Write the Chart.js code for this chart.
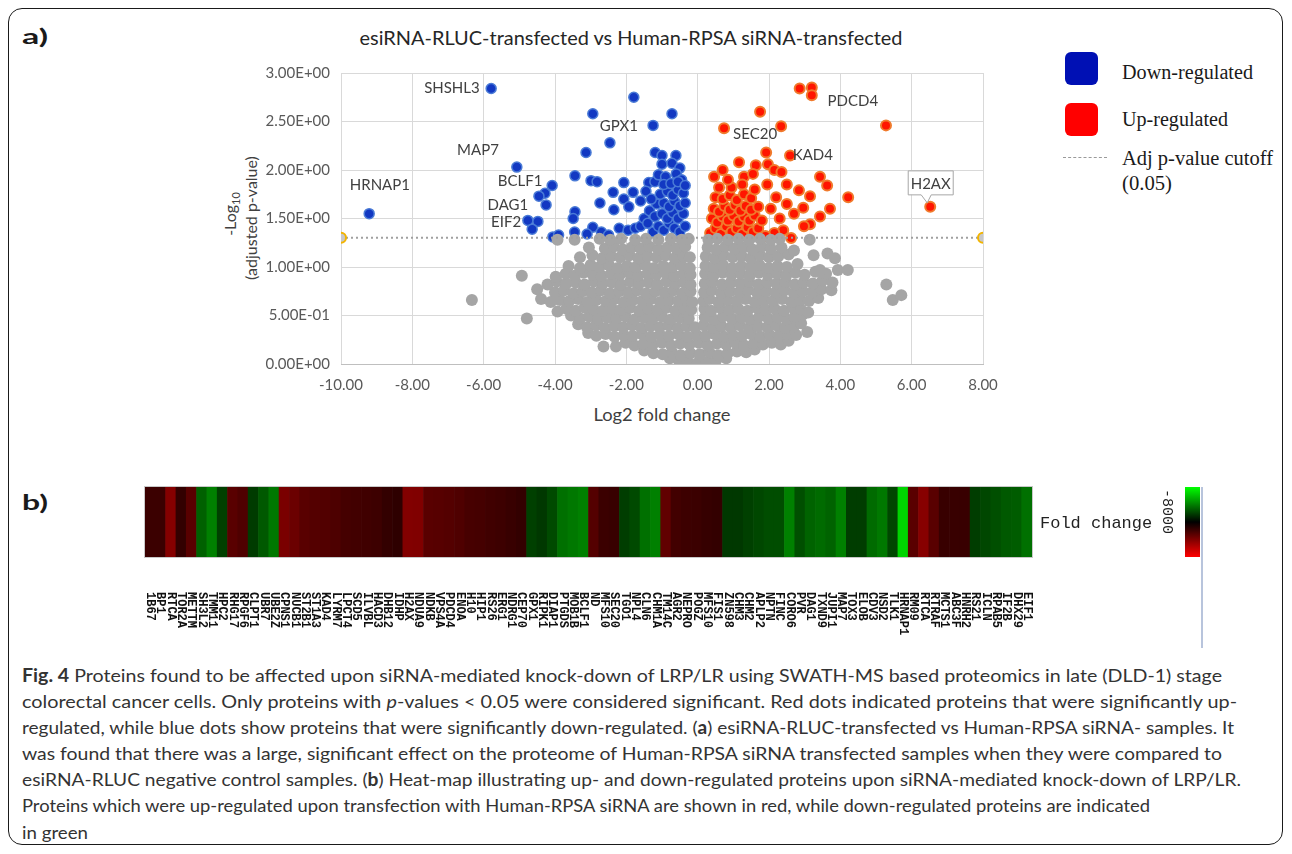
<!DOCTYPE html>
<html><head><meta charset="utf-8">
<script src="https://cdn.jsdelivr.net/npm/chart.js@4.4.1/dist/chart.umd.min.js"></script>
<style>
html,body{margin:0;padding:0;background:#fff;}
#page{position:relative;width:1292px;height:854px;overflow:hidden;background:#fff;font-family:Lato,sans-serif;color:#262626;}
.t{position:absolute;white-space:nowrap;display:inline-block;}
.lc{transform-origin:left center;}
.cc{transform-origin:center center;}
#frame{position:absolute;left:8px;top:8px;width:1273px;height:835px;border:1.5px solid #1a1a1a;border-radius:14px;}
.leg{font-family:"Liberation Serif",serif;font-size:20px;color:#1a1a1a;}
.cap{font-family:Lato,sans-serif;font-size:18px;color:#333;left:22px;}
canvas{position:absolute;}
</style></head>
<body><div id="page">
<div id="frame"></div>
<div class="t lc" data-w="26" data-y="35" style="left:22px;font-weight:bold;font-size:21px;color:#1a1a1a;">a)</div>
<div class="t cc" data-w="543" data-cx="631" data-y="37" style="font-size:19px;color:#262626;">esiRNA-RLUC-transfected vs Human-RPSA siRNA-transfected</div>

<div style="position:absolute;left:1065px;top:52px;width:33px;height:33px;border-radius:6px;background:#0010b4;"></div>
<div class="t lc leg" data-w="131" data-y="72" style="left:1122px;">Down-regulated</div>
<div style="position:absolute;left:1065px;top:103px;width:33px;height:33px;border-radius:6px;background:#ff0000;"></div>
<div class="t lc leg" data-w="106" data-y="119" style="left:1122px;">Up-regulated</div>
<div style="position:absolute;left:1063px;top:157px;width:44px;height:0;border-top:1.5px dashed #9a9a9a;"></div>
<div class="t lc leg" data-w="151" data-y="158" style="left:1122px;">Adj p-value cutoff</div>
<div class="t lc leg" data-w="50" data-y="183" style="left:1122px;">(0.05)</div>

<div class="t" style="left:231px;top:214px;transform:translate(-50%,-50%) rotate(-90deg);font-size:16px;color:#404040;">-Log<sub style="font-size:11px;">10</sub></div>
<div class="t" style="left:250px;top:218px;transform:translate(-50%,-50%) rotate(-90deg);font-size:16px;color:#404040;">(adjusted p-value)</div>
<div class="t cc" data-w="137" data-cx="662" data-y="414" style="font-size:17px;color:#404040;">Log2 fold change</div>

<div class="t lc" data-w="26" data-y="501" style="left:22px;font-weight:bold;font-size:21px;color:#1a1a1a;">b)</div>

<canvas id="volcano" width="820" height="420" style="left:200px;top:40px;"></canvas>
<canvas id="heat" width="1292" height="190" style="left:0px;top:470px;"></canvas>

<div class="t lc cap" data-w="1200" data-y="675"><b>Fig. 4</b> Proteins found to be affected upon siRNA-mediated knock-down of LRP/LR using SWATH-MS based proteomics in late (DLD-1) stage</div>
<div class="t lc cap" data-w="1215" data-y="701">colorectal cancer cells. Only proteins with <i>p</i>-values &lt; 0.05 were considered significant. Red dots indicated proteins that were significantly up-</div>
<div class="t lc cap" data-w="1212" data-y="727">regulated, while blue dots show proteins that were significantly down-regulated. (<b>a</b>) esiRNA-RLUC-transfected vs Human-RPSA siRNA- samples. It</div>
<div class="t lc cap" data-w="1200" data-y="753">was found that there was a large, significant effect on the proteome of Human-RPSA siRNA transfected samples when they were compared to</div>
<div class="t lc cap" data-w="1219" data-y="779">esiRNA-RLUC negative control samples. (<b>b</b>) Heat-map illustrating up- and down-regulated proteins upon siRNA-mediated knock-down of LRP/LR.</div>
<div class="t lc cap" data-w="1128" data-y="805">Proteins which were up-regulated upon transfection with Human-RPSA siRNA are shown in red, while down-regulated proteins are indicated</div>
<div class="t lc cap" data-w="66" data-y="832">in green</div>
</div>
<script>
// ---------- Volcano plot data (log2 fold change, -log10 adjusted p) ----------
const cutoffP = 1.301;
const xTickMin = -10, xTickMax = 8, yTickMin = 0, yTickMax = 3;

const bluePts = [
 [-9.21,1.55],[-5.79,2.84],[-5.07,2.03],[-4.08,1.84],[-4.28,1.76],[-4.45,1.73],[-4.25,1.64],[-4.76,1.48],[-4.48,1.47],[-4.64,1.39],[-4.06,1.31],[-3.9,1.33],
 [-2.94,2.58],[-1.79,2.75],[-0.72,2.58],[-1.25,2.46],[-2.46,2.28],[-3.13,2.18],[-3.44,1.94],[-2.99,1.89],[-2.82,1.88],[-2.07,1.87],[-1.37,1.87],[-2.37,1.77],
 [-1.81,1.77],[-1.19,2.18],[-1.0,2.15],[-0.61,2.15],[-1.0,2.06],[-0.72,2.07],[-0.5,2.02],[-2.74,1.66],[-2.07,1.70],[-1.93,1.62],[-2.35,1.59],[-3.44,1.57],
 [-3.49,1.50],[-2.94,1.41],[-2.7,1.36],[-2.5,1.33],[-3.45,1.36],[-3.1,1.34],[-2.2,1.40],[-1.95,1.38],[-1.75,1.40],[-1.6,1.42],[-1.5,1.50],[-1.35,1.58],
 [-1.6,1.68],[-1.45,1.78],[-1.2,1.88],[-1.1,1.95],[-0.9,1.93],[-0.6,1.96],[-0.45,1.9],
 [-1.25,1.36],[-1.1,1.42],[-0.95,1.38],[-0.8,1.45],[-0.65,1.4],[-0.5,1.36],[-0.35,1.42],[-1.2,1.52],[-1.0,1.55],[-0.85,1.5],[-0.7,1.56],[-0.55,1.5],
 [-0.4,1.55],[-1.15,1.65],[-0.95,1.66],[-0.8,1.62],[-0.65,1.68],[-0.5,1.63],[-0.35,1.66],[-1.05,1.75],[-0.85,1.78],[-0.7,1.74],[-0.55,1.8],[-0.4,1.76],
 [-0.95,1.85],[-0.75,1.86],[-0.55,1.88],[-0.35,1.84],[-1.3,1.7],[-1.4,1.45]
];
const redPts = [
 [2.86,2.84],[3.2,2.85],[3.2,2.77],[5.28,2.46],[1.75,2.6],[0.74,2.43],[2.34,2.45],[1.92,2.18],[2.59,2.15],[1.16,2.08],[1.63,2.05],[1.97,2.06],
 [2.15,2.0],[2.35,1.98],[0.46,1.93],[0.7,2.0],[1.3,1.93],[1.55,1.96],[3.43,1.93],[3.63,1.84],[4.22,1.72],[2.84,1.79],[3.15,1.73],[2.96,1.61],
 [3.71,1.6],[3.43,1.52],[3.15,1.44],[2.98,1.42],[2.62,1.3],[2.4,1.38],[2.15,1.35],[1.9,1.32],[6.52,1.62],[2.7,1.55],[2.5,1.65],[2.2,1.72],
 [1.95,1.85],[2.5,1.85],[2.05,1.6],[2.3,1.5],
 [0.35,1.35],[0.5,1.4],[0.65,1.34],[0.8,1.42],[0.95,1.36],[1.1,1.4],[1.25,1.34],[1.4,1.41],[1.55,1.36],[1.7,1.4],
 [0.4,1.5],[0.55,1.46],[0.7,1.52],[0.85,1.48],[1.0,1.53],[1.15,1.47],[1.3,1.52],[1.45,1.48],[1.6,1.53],[1.8,1.48],
 [0.45,1.6],[0.6,1.57],[0.75,1.63],[0.9,1.59],[1.05,1.64],[1.2,1.58],[1.35,1.63],[1.5,1.59],[1.7,1.62],
 [0.5,1.72],[0.7,1.7],[0.9,1.74],[1.1,1.69],[1.3,1.75],[1.5,1.71],[0.6,1.82],[0.95,1.82],[1.25,1.85],[1.6,1.8],[0.85,1.9]
];
const greyPts = [
 [-0.78,0.06],[-0.52,0.03],[-0.27,0.02],[0.0,0.01],[0.26,0.02],[0.52,0.04],[0.8,0.06],
 [-1.5,0.14],[-1.24,0.11],[-0.98,0.1],[-0.72,0.12],[-0.47,0.09],[-0.2,0.11],[0.06,0.1],[0.33,0.12],[0.58,0.09],[0.84,0.11],[1.1,0.13],[1.36,0.12],[1.6,0.15],
 [-2.64,0.18],[-2.29,0.18],[-2.02,0.22],[-1.77,0.19],[-1.52,0.21],[-1.26,0.2],[-1.0,0.22],[-0.74,0.19],[-0.49,0.21],[-0.23,0.2],[0.03,0.22],[0.28,0.19],[0.54,0.21],[0.8,0.2],[1.06,0.22],[1.31,0.19],[1.57,0.21],[1.83,0.2],[2.08,0.22],[2.33,0.2],[2.55,0.24],
 [-3.07,0.32],[-2.84,0.29],[-2.58,0.31],[-2.33,0.28],[-2.07,0.3],[-1.82,0.29],[-1.56,0.31],[-1.3,0.28],[-1.05,0.3],[-0.8,0.29],[-0.54,0.31],[-0.28,0.28],[-0.03,0.3],[0.22,0.29],[0.48,0.31],[0.74,0.28],[0.99,0.3],[1.25,0.29],[1.5,0.31],[1.76,0.28],[2.02,0.3],[2.27,0.29],[2.52,0.31],[2.76,0.3],[3.07,0.33],
 [-3.35,0.41],[-3.1,0.38],[-2.85,0.4],[-2.6,0.37],[-2.34,0.39],[-2.09,0.38],[-1.84,0.4],[-1.58,0.37],[-1.33,0.39],[-1.07,0.38],[-0.82,0.4],[-0.56,0.37],[-0.31,0.39],[-0.08,0.38],[0.17,0.4],[0.42,0.37],[0.67,0.39],[0.93,0.38],[1.18,0.4],[1.44,0.37],[1.69,0.39],[1.95,0.38],[2.2,0.4],[2.45,0.37],[2.7,0.39],[2.9,0.42],
 [-4.79,0.47],[-3.55,0.5],[-3.3,0.47],[-3.04,0.49],[-2.79,0.46],[-2.53,0.48],[-2.28,0.47],[-2.02,0.49],[-1.77,0.46],[-1.51,0.48],[-1.26,0.47],[-1.0,0.49],[-0.75,0.46],[-0.5,0.48],[-0.25,0.47],[0.2,0.48],[0.45,0.46],[0.71,0.49],[0.96,0.47],[1.22,0.48],[1.47,0.46],[1.73,0.49],[1.98,0.47],[2.24,0.48],[2.49,0.46],[2.72,0.49],[2.95,0.51],
 [-3.93,0.54],[-3.68,0.57],[-3.42,0.55],[-3.17,0.58],[-2.91,0.56],[-2.66,0.55],[-2.4,0.57],[-2.15,0.56],[-1.89,0.58],[-1.64,0.55],[-1.38,0.57],[-1.13,0.56],[-0.87,0.58],[-0.62,0.55],[-0.37,0.57],[-0.18,0.56],[0.19,0.57],[0.38,0.55],[0.63,0.58],[0.89,0.56],[1.14,0.57],[1.4,0.55],[1.65,0.58],[1.91,0.56],[2.16,0.57],[2.42,0.55],[2.67,0.58],[2.9,0.56],[3.1,0.53],
 [-6.33,0.66],[-4.39,0.67],[-4.12,0.64],[-3.86,0.66],[-3.6,0.65],[-3.35,0.67],[-3.09,0.64],[-2.84,0.66],[-2.58,0.65],[-2.33,0.67],[-2.07,0.64],[-1.82,0.66],[-1.56,0.65],[-1.31,0.67],[-1.05,0.64],[-0.8,0.66],[-0.55,0.65],[-0.3,0.67],[-0.15,0.64],[0.16,0.65],[0.33,0.67],[0.58,0.64],[0.84,0.66],[1.09,0.65],[1.35,0.67],[1.6,0.64],[1.86,0.66],[2.11,0.65],[2.37,0.67],[2.62,0.64],[2.88,0.66],[3.12,0.65],[3.38,0.68],[5.47,0.66],[5.71,0.71],
 [-4.5,0.77],[-4.0,0.74],[-3.74,0.76],[-3.48,0.73],[-3.22,0.75],[-2.97,0.74],[-2.71,0.76],[-2.46,0.73],[-2.2,0.75],[-1.95,0.74],[-1.69,0.76],[-1.44,0.73],[-1.18,0.75],[-0.93,0.74],[-0.67,0.76],[-0.42,0.73],[-0.2,0.75],[0.18,0.74],[0.4,0.76],[0.66,0.73],[0.91,0.75],[1.17,0.74],[1.42,0.76],[1.68,0.73],[1.93,0.75],[2.19,0.74],[2.44,0.76],[2.7,0.73],[2.95,0.75],[3.21,0.74],[3.47,0.77],[3.75,0.76],
 [-4.21,0.82],[-3.95,0.85],[-3.68,0.83],[-3.42,0.84],[-3.17,0.82],[-2.91,0.85],[-2.66,0.83],[-2.4,0.84],[-2.15,0.82],[-1.89,0.85],[-1.64,0.83],[-1.38,0.84],[-1.13,0.82],[-0.87,0.85],[-0.62,0.83],[-0.38,0.84],[-0.2,0.82],[0.2,0.83],[0.42,0.85],[0.68,0.82],[0.93,0.84],[1.19,0.83],[1.44,0.85],[1.7,0.82],[1.95,0.84],[2.21,0.83],[2.46,0.85],[2.72,0.82],[2.97,0.84],[3.23,0.83],[3.5,0.86],[3.78,0.84],[5.29,0.82],
 [-4.93,0.91],[-3.98,0.9],[-3.7,0.93],[-3.45,0.91],[-3.2,0.94],[-2.94,0.92],[-2.69,0.91],[-2.43,0.93],[-2.18,0.92],[-1.92,0.94],[-1.67,0.91],[-1.41,0.93],[-1.16,0.92],[-0.9,0.94],[-0.65,0.91],[-0.4,0.93],[-0.2,0.92],[0.21,0.93],[0.44,0.91],[0.7,0.94],[0.95,0.92],[1.21,0.93],[1.46,0.91],[1.72,0.94],[1.97,0.92],[2.23,0.93],[2.48,0.91],[2.74,0.94],[3.0,0.92],[3.3,0.95],[3.6,0.93],
 [-3.62,1.01],[-3.3,0.99],[-3.0,1.02],[-2.75,1.0],[-2.49,1.02],[-2.24,0.99],[-1.98,1.01],[-1.73,1.0],[-1.47,1.02],[-1.22,0.99],[-0.96,1.01],[-0.71,1.0],[-0.46,1.02],[-0.22,0.99],[0.22,1.01],[0.46,1.0],[0.71,1.02],[0.97,0.99],[1.22,1.01],[1.48,1.0],[1.73,1.02],[1.99,0.99],[2.24,1.01],[2.5,1.0],[2.8,1.03],[3.43,0.97],[3.93,0.97],[4.21,0.97],
 [-3.3,1.1],[-2.95,1.12],[-2.68,1.09],[-2.42,1.11],[-2.17,1.1],[-1.91,1.12],[-1.66,1.09],[-1.4,1.11],[-1.15,1.1],[-0.89,1.12],[-0.64,1.09],[-0.4,1.11],[-0.22,1.1],[0.23,1.11],[0.47,1.09],[0.73,1.12],[0.98,1.1],[1.24,1.11],[1.49,1.09],[1.75,1.12],[2.0,1.1],[2.26,1.11],[2.55,1.13],[3.64,1.14],[3.85,1.09],[3.25,1.12],
 [-3.05,1.2],[-2.6,1.19],[-2.35,1.21],[-2.1,1.18],[-1.85,1.2],[-1.6,1.19],[-1.35,1.21],[-1.1,1.18],[-0.85,1.2],[-0.6,1.19],[-0.35,1.21],[0.28,1.2],[0.52,1.18],[0.78,1.21],[1.03,1.19],[1.28,1.2],[1.54,1.18],[1.8,1.21],[2.05,1.19],[2.35,1.2],[2.7,1.17],
 [-3.93,1.28],[-3.45,1.28],[-2.75,1.29],[-2.45,1.28],[-2.15,1.29],[-1.75,1.28],[-1.45,1.29],[-1.1,1.28],[-0.75,1.29],[-0.45,1.28],[-0.25,1.29],[0.3,1.28],[0.55,1.29],[0.85,1.28],[1.15,1.29],[1.45,1.28],[1.75,1.29],[2.05,1.28],[2.3,1.29],[3.14,1.28]
];
const annotLabels = ['SHSHL3','GPX1','MAP7','BCLF1','HRNAP1','DAG1','EIF2','SEC20','KAD4','PDCD4'];
const annotX = [-6.89,-2.21,-6.16,-4.98,-8.91,-5.32,-5.37,1.61,3.23,4.35];
const annotY = [2.84,2.45,2.20,1.89,1.84,1.64,1.46,2.37,2.15,2.71];
const calloutLabel = 'H2AX', calloutX = 6.52, calloutY = 1.62;

// ---------- Heat-map data ----------
const heatLabels = ['1B67','BP1','RTCA','TOR2A','METTM','SH3L2','TMM11','HPC2','RHG17','RPGF6','CLPT1','UBR7','UBE2Z','CPNS1','NUCB1','ST2B1','ST1A3','KAD4','LYRM7','LPCT4','SCD5','ILVBL','HACD3','DHB12','IDHP','H2AX','NDUA9','NDKB','VPS4A','PDCD4','ENOA','H10','HIP1','RS26','ERG1','NDRG1','CEP70','GPX1','RIPK1','DIAP1','PTGDS','MOB1B','BCLF1','ND','MFS10','SEC20','TGO1','NPL4','CLN6','CHM1A','TM14C','AGR2','NEPRO','POGZ','MFS10','FIS1','ZN598','CHM3','CHM2','APLP2','NPTN','FINC','CORO6','PVR','DAG1','TXND9','JUPI1','MAP7','TOX3','ELOB','CDV3','NSD2','TLK1','HRNAP1','RM09','RTCA','RTRAF','MCTS1','ABC3F','HNRH2','RS21','ICLN','RPAB5','IF2B','DHX29','EIF1'];
const heatValues = [0.23,0.23,0.52,0.20,0.35,-0.38,-0.50,-0.25,0.35,0.31,-0.23,-0.35,-0.47,0.48,0.42,0.35,0.33,0.32,0.30,0.27,0.26,0.25,0.24,0.20,0.18,0.51,0.50,0.35,0.34,0.33,0.31,0.28,0.27,0.25,0.24,0.22,0.20,-0.25,-0.22,-0.29,-0.44,-0.47,-0.50,0.33,0.23,0.22,-0.24,-0.29,-0.44,-0.50,0.38,0.26,0.24,0.23,0.21,0.20,-0.22,-0.22,-0.25,-0.28,-0.30,-0.30,-0.50,-0.31,-0.39,-0.42,-0.39,-0.50,-0.24,-0.24,-0.42,-0.47,-0.28,-0.83,0.35,0.53,0.35,0.22,0.22,0.22,-0.24,-0.28,-0.31,-0.35,-0.36,-0.44];
const colorbarLabel = '-8000';

function sci(v){
  if (Math.abs(v) < 1e-12) return '0.00E+00';
  const e = Math.floor(Math.log10(v) + 1e-9);
  const m = v / Math.pow(10, e);
  return m.toFixed(2) + 'E' + (e < 0 ? '-' : '+') + String(Math.abs(e)).padStart(2, '0');
}
function heatColor(v){
  return v > 0 ? `rgb(${Math.round(255*v)},0,0)` : `rgb(0,${Math.round(-255*v)},0)`;
}
const toXY = a => a.map(p => ({x:p[0], y:p[1]}));

const annotPlugin = {
  id:'annot',
  afterDatasetsDraw(chart){
    const {ctx, scales:{x, y}} = chart;
    ctx.save();
    ctx.font = '15px Lato';
    ctx.fillStyle = '#404040';
    ctx.textAlign = 'center';
    ctx.textBaseline = 'middle';
    annotLabels.forEach((t,i) => ctx.fillText(t, x.getPixelForValue(annotX[i]), y.getPixelForValue(annotY[i])));
    const px = x.getPixelForValue(calloutX), py = y.getPixelForValue(calloutY);
    const L = px-22, R = px+23, T = py-36, B = py-12;
    ctx.beginPath();
    ctx.moveTo(L,T); ctx.lineTo(R,T); ctx.lineTo(R,B); ctx.lineTo(px+1,B);
    ctx.lineTo(px-3,py-4); ctx.lineTo(px-9,B); ctx.lineTo(L,B); ctx.closePath();
    ctx.fillStyle = '#fff'; ctx.fill();
    ctx.strokeStyle = '#a6a6a6'; ctx.lineWidth = 1; ctx.stroke();
    ctx.fillStyle = '#404040';
    ctx.fillText(calloutLabel, (L+R)/2, (T+B)/2+1);
    ctx.restore();
  }
};

new Chart(document.getElementById('volcano'), {
  type:'scatter',
  data:{datasets:[
    {type:'line', data:[{x:xTickMin,y:cutoffP},{x:xTickMax,y:cutoffP}], borderColor:'#a0a0a0', borderWidth:2, borderDash:[2,3], fill:false,
     pointRadius:5, pointBackgroundColor:'#c8c8c8', pointBorderColor:'#f2b400', pointBorderWidth:2},
    {data:toXY(greyPts), backgroundColor:'#a5a5a5', borderWidth:0, pointRadius:6},
    {data:toXY(bluePts), backgroundColor:'#1238c2', borderColor:'#4a7bd6', borderWidth:1.5, pointRadius:5},
    {data:toXY(redPts), backgroundColor:'#ff1500', borderColor:'#f07a2c', borderWidth:2, pointRadius:5}
  ]},
  options:{
    responsive:false, animation:false, events:[],
    plugins:{legend:{display:false}, tooltip:{enabled:false}},
    layout:{padding:{left:0, top:33, right:37, bottom:0}},
    scales:{
      x:{type:'linear', min:xTickMin, max:xTickMax,
         ticks:{stepSize:2, callback:v => v.toFixed(2), font:{family:'Lato', size:15}, color:'#595959', padding:12},
         grid:{color:'#d9d9d9', drawTicks:false}, border:{display:true, color:'#bfbfbf'},
         afterFit:s => { s.height = 96; }},
      y:{min:yTickMin, max:yTickMax,
         ticks:{stepSize:0.5, callback:v => sci(v), font:{family:'Lato', size:15}, color:'#595959', padding:11},
         grid:{color:'#d9d9d9', drawTicks:false}, border:{display:false},
         afterFit:s => { s.width = 141; }}
    }
  },
  plugins:[annotPlugin]
});

const heatPlugin = {
  id:'heatExtras',
  afterDraw(chart){
    const {ctx, chartArea:a, scales:{x}} = chart;
    ctx.save();
    ctx.strokeStyle = '#c8c8c8'; ctx.lineWidth = 1;
    ctx.strokeRect(a.left-0.5, a.top-0.5, a.right-a.left+1, a.bottom-a.top+1);
    ctx.fillStyle = '#111'; ctx.font = 'bold 12px "Liberation Mono"';
    ctx.textAlign = 'left'; ctx.textBaseline = 'middle';
    heatLabels.forEach((lab,i) => {
      ctx.save(); ctx.translate(x.getPixelForValue(i), a.bottom+35); ctx.rotate(Math.PI/2);
      ctx.fillText(lab, 0, 0); ctx.restore();
    });
    ctx.font = '17px "Liberation Mono"'; ctx.fillStyle = '#222';
    ctx.fillText('Fold change', 1040, a.top+36);
    const g = ctx.createLinearGradient(0, a.top, 0, a.bottom);
    g.addColorStop(0, '#00ff00'); g.addColorStop(0.5, '#000000'); g.addColorStop(1, '#ff0000');
    ctx.fillStyle = g; ctx.fillRect(1185, a.top, 15, a.bottom-a.top);
    ctx.save(); ctx.translate(1167, a.top+2); ctx.rotate(Math.PI/2);
    ctx.font = '15px "Liberation Mono"'; ctx.fillStyle = '#222'; ctx.fillText(colorbarLabel, 0, 0); ctx.restore();
    ctx.strokeStyle = '#b8c4dc'; ctx.lineWidth = 2;
    ctx.beginPath(); ctx.moveTo(1202, a.top); ctx.lineTo(1202, a.top+161); ctx.stroke();
    ctx.restore();
  }
};

new Chart(document.getElementById('heat'), {
  type:'bar',
  data:{labels:heatLabels, datasets:[{data:heatLabels.map(() => 1), backgroundColor:heatValues.map(heatColor), borderWidth:0, categoryPercentage:1, barPercentage:1}]},
  options:{
    responsive:false, animation:false, events:[],
    plugins:{legend:{display:false}, tooltip:{enabled:false}},
    layout:{padding:{left:145, right:260, top:17, bottom:103}},
    scales:{x:{display:false}, y:{display:false, min:0, max:1}}
  },
  plugins:[heatPlugin]
});

// fit text widths to the reference
document.querySelectorAll('[data-w]').forEach(el => {
  const w = +el.dataset.w, nat = el.getBoundingClientRect().width;
  const s = nat > 0 ? w / nat : 1;
  const yc = +el.dataset.y;
  el.style.top = yc + 'px';
  if (el.dataset.cx) {
    el.style.left = el.dataset.cx + 'px';
    el.style.transform = `translate(-50%,-50%) scaleX(${s})`;
  } else {
    el.style.transform = `translateY(-50%) scaleX(${s})`;
  }
});
</script>
</body></html>
